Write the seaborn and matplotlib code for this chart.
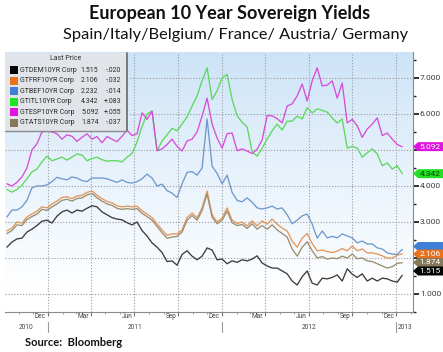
import numpy as np
import pandas as pd
import matplotlib
matplotlib.use("Agg")
import matplotlib.pyplot as plt
import matplotlib.dates as mdates
from matplotlib import font_manager as fm
from matplotlib.ticker import MultipleLocator, FormatStrFormatter, NullFormatter
from matplotlib.patches import Rectangle, Polygon
from matplotlib.lines import Line2D
from matplotlib.transforms import Bbox, TransformedBbox, blended_transform_factory
import seaborn as sns

sns.set_theme(style="white")
plt.rcParams['font.family'] = ['DejaVu Sans']

# ---------------- data ----------------
dates = pd.date_range("2010-10-07", periods=80, freq="252h")

spain = [4.06, 4.00, 4.10, 4.25, 4.50, 5.00, 5.17, 5.50, 5.52, 5.50,
         5.45, 5.30, 5.42, 5.38, 5.24, 5.35, 5.45, 5.30, 5.37, 5.20,
         5.37, 5.30, 5.23, 5.38, 5.55, 5.40, 5.45, 6.03, 5.85, 6.08,
         4.98, 5.03, 5.15, 5.30, 5.10, 4.97, 5.25, 5.30, 5.50, 5.94,
         6.44, 5.72, 5.33, 5.05, 5.45, 5.47, 4.98, 5.03, 4.97, 4.90,
         5.02, 5.28, 5.95, 5.95, 5.87, 5.75, 6.22, 6.28, 6.50, 6.83,
         6.36, 6.92, 7.28, 6.78, 6.80, 6.92, 6.44, 6.86, 5.75, 5.85,
         5.67, 5.35, 5.58, 5.72, 5.89, 5.40, 5.47, 5.30, 5.15, 5.09]

italy = [3.90, 3.83, 3.90, 4.02, 4.20, 4.39, 4.47, 4.67, 4.83, 4.70,
         4.75, 4.80, 4.72, 4.80, 4.89, 4.86, 4.70, 4.76, 4.80, 4.73,
         4.69, 4.70, 4.70, 4.67, 4.80, 4.90, 5.22, 5.65, 6.00, 6.08,
         4.98, 5.25, 5.42, 5.60, 5.53, 5.72, 5.92, 6.22, 6.50, 6.92,
         7.28, 6.40, 6.64, 7.00, 7.10, 6.40, 5.95, 5.77, 5.64, 4.95,
         4.83, 5.05, 5.30, 5.53, 5.72, 5.55, 5.80, 5.80, 5.94, 5.86,
         6.17, 6.03, 6.14, 6.10, 6.05, 5.89, 5.75, 5.86, 5.05, 5.10,
         5.05, 4.80, 4.92, 5.03, 4.89, 4.56, 4.64, 4.47, 4.56, 4.34]

belgium = [3.14, 3.33, 3.33, 3.42, 3.60, 3.95, 4.00, 4.00, 4.03, 4.12,
           4.24, 4.20, 4.17, 4.25, 4.22, 4.15, 4.12, 4.22, 4.22, 4.22,
           4.20, 4.15, 4.10, 4.17, 4.10, 4.08, 4.12, 4.20, 4.33, 4.22,
           4.00, 4.05, 3.87, 3.80, 3.68, 4.06, 4.38, 4.40, 4.30, 4.50,
           5.86, 4.55, 4.35, 4.06, 4.30, 3.82, 3.60, 3.56, 3.67, 3.55,
           3.39, 3.36, 3.39, 3.44, 3.36, 3.39, 3.20, 2.95, 3.05, 3.17,
           3.22, 2.94, 2.55, 2.75, 2.56, 2.60, 2.56, 2.67, 2.61, 2.56,
           2.42, 2.47, 2.39, 2.39, 2.28, 2.25, 2.14, 2.11, 2.10, 2.24]

france = [2.75, 2.83, 3.00, 2.97, 3.14, 3.22, 3.30, 3.42, 3.39, 3.50,
          3.58, 3.68, 3.70, 3.65, 3.72, 3.74, 3.82, 3.86, 3.74, 3.65,
          3.57, 3.53, 3.45, 3.42, 3.44, 3.42, 3.44, 3.31, 3.22, 3.12,
          2.95, 2.78, 2.63, 2.67, 2.67, 2.78, 3.12, 3.25, 3.11, 3.39,
          3.86, 3.20, 3.00, 3.11, 3.39, 3.05, 2.96, 3.00, 2.89, 3.03,
          2.89, 3.03, 2.94, 3.08, 2.94, 2.83, 2.75, 2.47, 2.30, 2.55,
          2.68, 2.40, 2.20, 2.22, 2.18, 2.15, 2.19, 2.26, 2.20, 2.33,
          2.20, 2.25, 2.14, 2.14, 2.11, 2.06, 2.00, 2.00, 2.08, 2.11]

austria = [2.68, 2.76, 2.92, 2.90, 3.07, 3.15, 3.22, 3.35, 3.32, 3.42,
           3.50, 3.60, 3.63, 3.58, 3.65, 3.67, 3.75, 3.79, 3.67, 3.58,
           3.50, 3.46, 3.38, 3.35, 3.37, 3.35, 3.37, 3.24, 3.15, 3.05,
           2.88, 2.70, 2.55, 2.58, 2.60, 2.72, 3.05, 3.18, 3.05, 3.32,
           3.78, 3.13, 2.95, 3.05, 3.30, 2.98, 2.90, 2.93, 2.82, 2.95,
           2.80, 2.90, 2.80, 2.92, 2.78, 2.68, 2.58, 2.25, 2.05, 2.30,
           2.45, 2.20, 2.00, 2.04, 1.97, 2.00, 1.98, 2.05, 2.00, 2.11,
           1.98, 2.00, 1.92, 1.90, 1.84, 1.78, 1.72, 1.76, 1.85, 1.87]

germany = [2.30, 2.44, 2.53, 2.55, 2.72, 2.80, 2.90, 3.02, 3.05, 2.97,
           3.16, 3.28, 3.33, 3.25, 3.33, 3.30, 3.38, 3.45, 3.42, 3.28,
           3.20, 3.12, 3.08, 3.06, 2.98, 2.92, 3.00, 2.76, 2.61, 2.42,
           2.30, 2.15, 1.90, 1.92, 1.80, 2.10, 2.20, 2.05, 1.95, 2.05,
           2.28, 2.22, 1.95, 1.97, 1.84, 1.92, 1.88, 1.95, 1.92, 1.97,
           2.06, 1.86, 1.78, 1.72, 1.72, 1.64, 1.56, 1.36, 1.25, 1.48,
           1.64, 1.30, 1.25, 1.44, 1.42, 1.46, 1.53, 1.36, 1.70, 1.55,
           1.46, 1.56, 1.36, 1.44, 1.36, 1.44, 1.42, 1.36, 1.33, 1.52]

tickers = ["GTDEM10YR Corp", "GTFRF10YR Corp", "GTBEF10YR Corp",
           "GTITL10YR Corp", "GTESP10YR Corp", "GTATS10YR Corp"]
last_price = [1.515, 2.106, 2.232, 4.342, 5.092, 1.874]
change = ["-.020", "-.032", "-.014", "+.083", "+.055", "-.037"]
series_values = [germany, france, belgium, italy, spain, austria]

month_labels = ["Dec", "Mar", "Jun", "Sep", "Dec", "Mar", "Jun", "Sep", "Dec"]
month_label_dates = ["2010-12-16", "2011-03-16", "2011-06-16", "2011-09-16",
                     "2011-12-16", "2012-03-16", "2012-06-16", "2012-09-16",
                     "2012-12-16"]
year_labels = ["2010", "2011", "2012", "2013"]

# ---------------- style ----------------
line_colors = ["#3c3c3c", "#e3975c", "#7199cc", "#5cd85c", "#d64ed6", "#9c8e72"]
legend_colors = ["#050505", "#e8721e", "#3f7fd8", "#22e022", "#e014e0", "#85795a"]
tag_text_colors = ["white", "white", "white", "#0a3a0a", "white", "white"]

W, H = 443, 352
def fx(px):
    return px / W
def fy(py):
    return 1 - py / H

fig = plt.figure(figsize=(W / 100, H / 100), dpi=100)
fig.patch.set_facecolor("white")
ax = fig.add_axes([fx(5), fy(312), 408 / W, 260 / H])
renderer = fig.canvas.get_renderer()


def measure(text, fp):
    t = fig.text(0, 0, text, fontproperties=fp)
    w = t.get_window_extent(renderer=renderer).width
    t.remove()
    return w


def pick_font(text, target_px, maxsize):
    """Choose the installed family that lets `text` be tallest at target width."""
    best = None
    for fam in ["Liberation Sans Narrow", "Roboto", "Lato", "Liberation Sans",
                "Noto Sans", "Open Sans"]:
        try:
            fm.findfont(fm.FontProperties(family=fam), fallback_to_default=False)
        except Exception:
            continue
        fp = fm.FontProperties(family=fam, size=10)
        size = min(maxsize, 10 * target_px / measure(text, fp))
        if best is None or size > best[1] + 1e-6:
            best = (fam, size)
    return best


leg_fam, leg_size = pick_font("GTDEM10YR Corp", 56.5, 7.2)
tick_fam, tick_size = pick_font("7.000", 21.0, 6.8)
mon_size = min(6.8, 10 * 11.5 / measure("Mar", fm.FontProperties(family=tick_fam, size=10)))


def nfp(fam, size, weight="normal"):
    return fm.FontProperties(family=fam, size=size, weight=weight)


df = pd.DataFrame({
    "date": np.tile(dates, len(tickers)),
    "series": np.repeat(tickers, len(dates)),
    "yield": np.concatenate(series_values),
})
palette = dict(zip(tickers, line_colors))
sns.lineplot(data=df, x="date", y="yield", hue="series", hue_order=tickers,
             palette=palette, linewidth=0.95, legend=False, ax=ax, zorder=3)

x0 = pd.Timestamp("2010-10-03")
x1 = pd.Timestamp("2013-02-05")

# background gradient
t = np.linspace(0, 1, 256)
top = np.array([0.80, 0.89, 0.97])
ramp = np.clip(t / 0.92, 0, 1) ** 0.9
img = top[None, :] * (1 - ramp[:, None]) + np.ones(3)[None, :] * ramp[:, None]
img = img[:, None, :]
ax.imshow(img, extent=[0, 1, 0, 1], transform=ax.transAxes, aspect="auto",
          zorder=0, origin="upper")
ax.set_xlim(x0, x1)
ax.set_ylim(0.5, 7.72)
ax.set_xlabel("")
ax.set_ylabel("")

# grid & spines
ax.xaxis.set_major_locator(mdates.MonthLocator(bymonth=[1, 4, 7, 10]))
ax.xaxis.set_minor_locator(mdates.MonthLocator())
ax.xaxis.set_major_formatter(NullFormatter())
ax.yaxis.tick_right()
ax.yaxis.set_major_locator(MultipleLocator(1))
ax.yaxis.set_minor_locator(MultipleLocator(0.5))
ax.yaxis.set_major_formatter(FormatStrFormatter("%.3f"))
ax.grid(True, which="major", axis="both", color="#9c9c9c",
        linestyle=(0, (1, 1.6)), linewidth=0.8, zorder=1)
for s in ["top", "left"]:
    ax.spines[s].set_visible(False)
for s in ["right", "bottom"]:
    ax.spines[s].set_color("#8a8a8a")
    ax.spines[s].set_linewidth(0.8)
ax.tick_params(axis="y", which="major", length=4, width=1.3, color="#222222",
               labelcolor="#3a3a3a", pad=1, right=True, left=False)
ax.tick_params(axis="y", which="minor", length=2, width=1.0, color="#222222",
               right=True, left=False)
ax.tick_params(axis="x", which="major", length=3, width=0.8, color="#777777",
               bottom=True)
ax.tick_params(axis="x", which="minor", length=1.5, width=0.7, color="#999999",
               bottom=True)
fig.canvas.draw()
hidden_ticks = ["5.000", "2.000"]   # covered by the value tags in the reference
for lab in ax.get_yticklabels():
    lab.set_fontproperties(nfp(tick_fam, tick_size))
    if lab.get_text() in hidden_ticks:
        lab.set_visible(False)

# month labels
xtr = blended_transform_factory(ax.transData, fig.transFigure)
for lab, d in zip(month_labels, month_label_dates):
    ax.text(mdates.date2num(pd.Timestamp(d)), fy(317), lab, transform=xtr,
            ha="center", va="center", fontproperties=nfp(tick_fam, mon_size),
            color="#444444")

# year labels, centred on visible part of each year
clip = TransformedBbox(Bbox([[0, 0], [413 / W, 1]]), fig.transFigure)
for lab in year_labels:
    ys = max(pd.Timestamp(f"{lab}-01-01"), x0)
    ye = min(pd.Timestamp(f"{int(lab) + 1}-01-01"), x1)
    mid = ys + (ye - ys) / 2
    txt = ax.text(mdates.date2num(mid), fy(327.5), lab, transform=xtr,
                  ha="center", va="center", fontproperties=nfp(tick_fam, mon_size),
                  color="#444444")
    txt.set_clip_on(True)
    txt.set_clip_box(clip)
    if pd.Timestamp(f"{lab}-01-01") > x0:
        xd = mdates.date2num(pd.Timestamp(f"{lab}-01-01"))
        ax.add_line(Line2D([xd, xd], [fy(322), fy(332)], transform=xtr,
                           color="#999999", linewidth=0.8, clip_on=False))

# ---------------- legend box ----------------
fig.add_artist(Rectangle((fx(5), fy(131)), fx(127) - fx(5), fy(53) - fy(131),
                         transform=fig.transFigure, facecolor="#e1e4e9",
                         edgecolor="none", zorder=4))
fig.add_artist(Line2D([fx(127), fx(127)], [fy(53), fy(131)],
                      transform=fig.transFigure, color="#7a7a7a", lw=1.4, zorder=5))
fig.add_artist(Line2D([fx(5), fx(127)], [fy(131), fy(131)],
                      transform=fig.transFigure, color="#8a8a8a", lw=1.0, zorder=5))
fig.text(fx(66), fy(59), "Last Price", ha="center", va="center",
         fontproperties=nfp(leg_fam, leg_size), color="#333333", zorder=6)
row_y = [70, 80.7, 91.2, 101.7, 112.2, 122.5]
for i, tk in enumerate(tickers):
    yy = row_y[i]
    fig.add_artist(Rectangle((fx(10), fy(yy + 4)), 8 / W, 8 / H,
                             transform=fig.transFigure, facecolor=legend_colors[i],
                             edgecolor="none", zorder=6))
    fig.text(fx(19.5), fy(yy), tk, ha="left", va="center",
             fontproperties=nfp(leg_fam, leg_size), color="#2a2a2a", zorder=6)
    fig.text(fx(98.5), fy(yy), f"{last_price[i]:.3f}", ha="right", va="center",
             fontproperties=nfp(leg_fam, leg_size), color="#2a2a2a", zorder=6)
    fig.text(fx(121.5), fy(yy), change[i], ha="right", va="center",
             fontproperties=nfp(leg_fam, leg_size), color="#2a2a2a", zorder=6)

# ---------------- right value tags ----------------
def data_to_py(v):
    return H - ax.transData.transform((0, v))[1]

tag_py = [271.0, 254.0, 246.5, data_to_py(last_price[3]),
          data_to_py(last_price[4]), 262.5]
draw_order = [4, 3, 2, 1, 5, 0]
tag_size = min(tick_size, 6.2)
for i in draw_order:
    yc = tag_py[i]
    hh = 4.5
    pts = [(fx(413), fy(yc)), (fx(418), fy(yc - hh)), (fx(443), fy(yc - hh)),
           (fx(443), fy(yc + hh)), (fx(418), fy(yc + hh))]
    fig.add_artist(Polygon(pts, closed=True, transform=fig.transFigure,
                           facecolor=legend_colors[i], edgecolor="none", zorder=7))
    if i != 2:
        fig.text(fx(430), fy(yc), f"{last_price[i]:.3f}", ha="center",
                 va="center", fontproperties=nfp(tick_fam, tag_size),
                 color=tag_text_colors[i], zorder=8)

# ---------------- titles ----------------
fig.text(fx(230), fy(13.5), "European 10 Year Sovereign Yields", ha="center",
         va="center", fontsize=13, fontweight="bold", family=["Lato", "DejaVu Sans"],
         color="#111111")
fig.text(fx(236), fy(35), "Spain/Italy/Belgium/ France/ Austria/ Germany",
         ha="center", va="center", fontsize=11.8, family=["Lato", "DejaVu Sans"],
         color="#111111")
fig.text(fx(25), fy(343), "Source:  Bloomberg", ha="left", va="center",
         fontsize=8, fontweight="bold", family=["Lato", "DejaVu Sans"],
         color="#111111")

fig.savefig("out.png", dpi=100)
